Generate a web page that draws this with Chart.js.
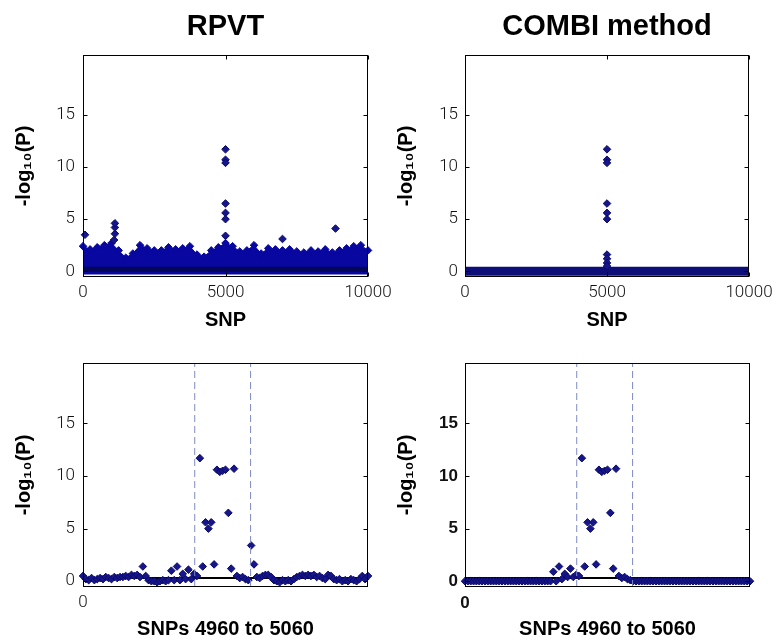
<!DOCTYPE html>
<html><head><meta charset="utf-8">
<script src="https://cdn.jsdelivr.net/npm/chart.js@4/dist/chart.umd.min.js"></script>
<style>
html,body{margin:0;padding:0;background:#fff;overflow:hidden;width:776px;height:642px;position:relative;}
canvas{position:absolute;}
</style></head><body>
<canvas id="c1" width="400" height="340" style="left:0px;top:0px"></canvas>
<canvas id="c2" width="420" height="340" style="left:380px;top:0px"></canvas>
<canvas id="c3" width="400" height="312" style="left:0px;top:330px"></canvas>
<canvas id="c4" width="420" height="312" style="left:380px;top:330px"></canvas>
<script>
// ---------- text ----------
const panelTitles = ['RPVT', 'COMBI method'];
const yLabel = '-log\u2081\u2080(P)';
const topXLabel = 'SNP';
const bottomXLabel = 'SNPs 4960 to 5060';

// ---------- ticks ----------
const yTicks = [0, 5, 10, 15];
const topXTicks = [0, 5000, 10000];
const bottomXTicks = [0];

// ---------- top row: whole genome (SNP 0..10000) ----------
// upper envelope of the dense RPVT cloud (read at every 250 SNPs)
const rpvtEnvelopeSnp = [0,250,500,750,1000,1250,1500,1750,2000,2250,2500,2750,3000,3250,3500,3750,4000,4250,4500,4750,5000,5250,5500,5750,6000,6250,6500,6750,7000,7250,7500,7750,8000,8250,8500,8750,9000,9250,9500,9750,10000];
const rpvtEnvelope    = [2.4,2.1,2.3,2.5,2.7,2.0,1.3,1.7,2.5,2.2,2.0,2.0,2.3,2.1,2.2,2.4,1.6,1.4,2.0,2.3,2.7,2.4,1.9,2.0,2.5,1.7,2.2,2.1,2.0,2.1,1.9,1.8,2.0,1.9,2.1,1.8,2.0,2.2,2.4,2.5,2.0];
// isolated RPVT points above the cloud
const rpvtPeakSnp = [70,1090,1120,1120,1120,5000,5000,5000,5000,5000,5000,5000,7000,8860];
const rpvtPeakVal = [3.5,3.0,3.6,4.2,4.6,11.7,10.7,10.4,6.5,5.6,5.0,3.4,3.1,4.1];
// COMBI: everything at 0 except the selected SNPs near 5000
const combiBaselineSnp = [0, 10000];
const combiBaselineVal = [0, 0];
const combiPeakSnp = [5000,5000,5000,5000,5000,5000,5000,5000,5000,5000];
const combiPeakVal = [11.7,10.7,10.4,6.5,5.6,5.0,1.6,1.2,0.8,0.5];

// ---------- bottom row: SNPs 4960..5060 (index 0..100) ----------
const zoomIndex = Array.from({length: 101}, (_, i) => i);
const rpvtZoom = [0.5,0.2,0.1,0.3,0.1,0.2,0.3,0.2,0.4,0.3,
                  0.2,0.4,0.3,0.4,0.4,0.5,0.4,0.6,0.5,0.6,
                  0.4,1.4,0.5,0.1,0.0,0.0,-0.1,0.0,0.1,0.0,
                  0.1,1.0,0.1,1.4,0.1,0.7,0.2,1.1,0.2,0.7,
                  0.5,11.7,1.4,5.6,5.0,5.6,1.6,10.6,10.4,10.5,
                  10.6,6.5,1.2,10.7,0.5,0.3,0.4,0.2,0.1,3.4,
                  1.6,0.4,0.3,0.5,0.6,0.6,0.4,0.1,0.0,-0.1,
                  0.1,0.0,0.1,0.0,0.2,0.4,0.5,0.6,0.5,0.6,
                  0.5,0.6,0.4,0.5,0.3,0.2,0.6,0.5,0.2,0.1,
                  0.2,0.0,0.1,0.0,0.2,0.1,0.0,0.2,0.5,0.2,
                  0.5];
const combiZoom = [0,0,0,0,0,0,0,0,0,0,
                   0,0,0,0,0,0,0,0,0,0,
                   0,0,0,0,0,0,0,0,0,0,
                   0,0.9,0.0,1.4,0.2,0.7,0.4,1.2,0.4,0.6,
                   0.5,11.7,1.4,5.6,5.0,5.6,1.6,10.6,10.4,10.5,
                   10.6,6.5,1.2,10.7,0.5,0.3,0.4,0.2,0.1,0,
                   0,0,0,0,0,0,0,0,0,0,
                   0,0,0,0,0,0,0,0,0,0,
                   0,0,0,0,0,0,0,0,0,0,
                   0,0,0,0,0,0,0,0,0,0,
                   0];
const regionBounds = [39.2, 58.8];   // dashed lines (index units)
const zoomRefLevel = 0.3;            // solid black reference line
const yRange = [-0.55, 20.75];

// ---------- styles ----------
const MARK = '#16168a', MARK_EDGE = '#0a0a6a';
const BAND = 'rgb(8,8,160)';
const DASH = '#7f89c4';
const thinTick = {family: 'Roboto', size: 17, weight: '300'};
const boldTick = {family: 'Liberation Sans', size: 17, weight: 'bold'};
const labelFont = {family: 'Liberation Sans', size: 20, weight: 'bold'};

const pts = (xs, ys) => xs.map((x, i) => ({x, y: ys[i]}));

const boxPlugin = {
  id: 'matlabBox',
  afterDatasetsDraw(chart) {
    const {ctx, chartArea: a, scales: {x, y}} = chart;
    ctx.save();
    ctx.strokeStyle = '#000';
    ctx.lineWidth = 1;
    const l = Math.round(a.left) + 0.5, t = Math.round(a.top) + 0.5;
    const r = Math.round(a.right) - 0.5, b = Math.round(a.bottom) - 0.5;
    ctx.strokeRect(l, t, r - l, b - t);
    const L = 4;
    ctx.beginPath();
    y.ticks.forEach(tk => {
      const py = Math.round(y.getPixelForValue(tk.value)) + 0.5;
      ctx.moveTo(l, py); ctx.lineTo(l + L, py);
      ctx.moveTo(r, py); ctx.lineTo(r - L, py);
    });
    x.ticks.forEach(tk => {
      const px = Math.round(x.getPixelForValue(tk.value)) + 0.5;
      ctx.moveTo(px, b); ctx.lineTo(px, b - L);
      ctx.moveTo(px, t); ctx.lineTo(px, t + L);
    });
    ctx.stroke();
    ctx.restore();
  }
};

function makeChart(id, o) {
  return new Chart(document.getElementById(id), {
    type: 'scatter',
    data: {datasets: o.datasets},
    options: {
      responsive: false,
      animation: false,
      devicePixelRatio: 1,
      events: [],
      layout: {padding: o.pad},
      plugins: {
        legend: {display: false},
        tooltip: {enabled: false},
        title: o.title ? {
          display: true, text: o.title, fullSize: false, color: '#000',
          font: {family: 'Liberation Sans', size: 29, weight: 'bold'},
          padding: {top: 10, bottom: 10.2}
        } : {display: false}
      },
      scales: {
        x: {
          type: 'linear', min: o.xMin, max: o.xMax,
          afterBuildTicks: s => { s.ticks = o.xTicks.map(v => ({value: v})); },
          afterFit: s => { s.height = o.xAxisHeight; },
          grid: {display: false, drawTicks: false},
          border: {display: false},
          ticks: {padding: 6, font: o.tickFont, color: '#111', maxRotation: 0, autoSkip: false,
                  callback: v => String(v)},
          title: {display: true, text: o.xLabel, font: labelFont, color: '#000',
                  padding: {top: 0, bottom: o.xTitlePad}}
        },
        y: {
          type: 'linear', min: yRange[0], max: yRange[1],
          afterBuildTicks: s => { s.ticks = yTicks.map(v => ({value: v})); },
          afterFit: s => { s.width = o.yAxisWidth; },
          grid: {display: false, drawTicks: false},
          border: {display: false},
          ticks: {padding: o.yTickPad, font: o.tickFont, color: '#111', autoSkip: false,
                  callback: v => String(v)},
          title: {display: true, text: yLabel, font: labelFont, color: '#000',
                  padding: {top: o.yTitlePad, bottom: 0}}
        }
      }
    },
    plugins: [boxPlugin]
  });
}

const diamond = (data, order, extra) => Object.assign({
  data, order, clip: false, showLine: false,
  pointStyle: 'rectRot', pointRadius: 3.8, borderWidth: 1,
  pointBackgroundColor: MARK, pointBorderColor: MARK_EDGE,
  backgroundColor: MARK, borderColor: MARK_EDGE
}, extra || {});
const hline = (data, color, width, order, dash) => ({
  data, order, clip: false, showLine: true, pointRadius: 0,
  borderColor: color, borderWidth: width, borderDash: dash || [], fill: false
});

// Top-left: RPVT genome-wide
makeChart('c1', {
  title: panelTitles[0], xLabel: topXLabel, xMin: 0, xMax: 10000, xTicks: topXTicks,
  pad: {left: 0, right: 32, top: 0, bottom: 0},
  yAxisWidth: 83, xAxisHeight: 63, yTitlePad: 12, xTitlePad: 8, yTickPad: 8, tickFont: thinTick,
  datasets: [
    diamond(pts(rpvtPeakSnp, rpvtPeakVal), 0),
    hline(pts(combiBaselineSnp, [0.2, 0.2]), '#05055a', 5, 1),
    Object.assign(diamond(pts(rpvtEnvelopeSnp, rpvtEnvelope), 2), {
      showLine: true, fill: {value: -0.3}, backgroundColor: BAND, borderColor: BAND,
      pointBackgroundColor: BAND, pointBorderColor: BAND, borderWidth: 1, tension: 0
    })
  ]
});

// Top-right: COMBI genome-wide
makeChart('c2', {
  title: panelTitles[1], xLabel: topXLabel, xMin: 0, xMax: 10000, xTicks: topXTicks,
  pad: {left: 0, right: 51, top: 0, bottom: 0},
  yAxisWidth: 85, xAxisHeight: 63, yTitlePad: 14, xTitlePad: 8, yTickPad: 7, tickFont: thinTick,
  datasets: [
    diamond(pts(combiPeakSnp, combiPeakVal), 0),
    hline(pts(combiBaselineSnp, combiBaselineVal), '#0e0e78', 9, 1)
  ]
});

// Bottom-left: RPVT zoom
makeChart('c3', {
  title: null, xLabel: bottomXLabel, xMin: 0, xMax: 100, xTicks: bottomXTicks,
  pad: {left: 0, right: 32, top: 33, bottom: 0},
  yAxisWidth: 83, xAxisHeight: 55, yTitlePad: 12, xTitlePad: 0.5, yTickPad: 8, tickFont: thinTick,
  datasets: [
    hline([{x: regionBounds[0], y: yRange[0]}, {x: regionBounds[0], y: yRange[1]}], DASH, 1, -1, [7, 4]),
    hline([{x: regionBounds[1], y: yRange[0]}, {x: regionBounds[1], y: yRange[1]}], DASH, 1, -1, [7, 4]),
    diamond(pts(zoomIndex, rpvtZoom), 0),
    hline([{x: 0, y: zoomRefLevel}, {x: 100, y: zoomRefLevel}], '#000', 2, 1)
  ]
});

// Bottom-right: COMBI zoom
makeChart('c4', {
  title: null, xLabel: bottomXLabel, xMin: 0, xMax: 100, xTicks: bottomXTicks,
  pad: {left: 0, right: 50, top: 33, bottom: 0},
  yAxisWidth: 85, xAxisHeight: 55, yTitlePad: 14, xTitlePad: 0.5, yTickPad: 7, tickFont: boldTick,
  datasets: [
    hline([{x: regionBounds[0], y: yRange[0]}, {x: regionBounds[0], y: yRange[1]}], DASH, 1, -1, [7, 4]),
    hline([{x: regionBounds[1], y: yRange[0]}, {x: regionBounds[1], y: yRange[1]}], DASH, 1, -1, [7, 4]),
    diamond(pts(zoomIndex, combiZoom), 0),
    hline([{x: 0, y: zoomRefLevel}, {x: 100, y: zoomRefLevel}], '#000', 2, 1)
  ]
});
</script>
</body></html>
